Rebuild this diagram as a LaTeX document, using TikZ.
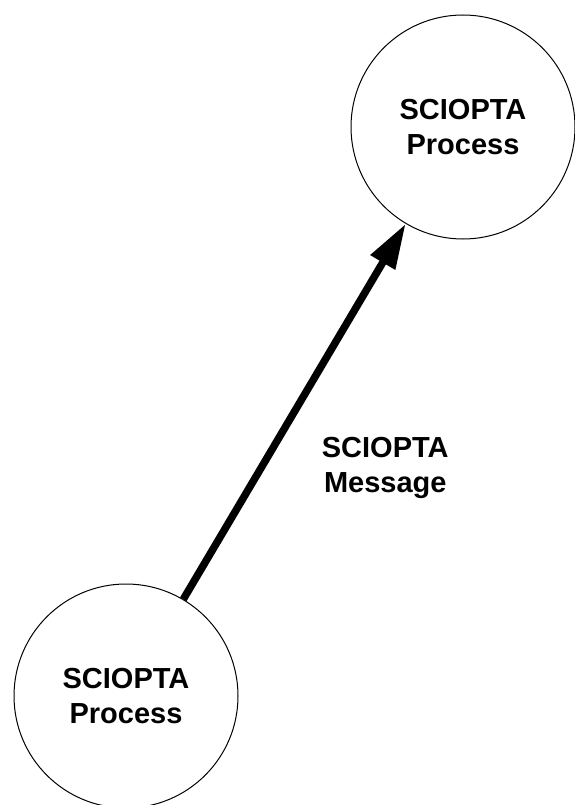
\documentclass[tikz,border=0pt]{standalone}
\usepackage{fontspec}
\setmainfont{Liberation Sans}
\usetikzlibrary{arrows.meta}
\begin{document}
\begin{tikzpicture}[x=1pt, y=1pt, >={Triangle[length=45pt,width=27pt]}, font=\fontsize{29}{35}\selectfont\bfseries, line join=round,
	proc/.style={draw, circle, line width=1pt, minimum size=224pt, inner sep=0pt, align=center},
	msg/.style={line width=7.5pt, ->}]
	\useasboundingbox (0,0) rectangle (574,-805);
	\node[proc] (recv) at (463,-127) {SCIOPTA\\Process};
	\node[proc] (send) at (126,-696) {SCIOPTA\\Process};
	\draw[msg] (send) -- (recv) node[pos=.35, right=57pt, inner sep=0pt, align=center]{SCIOPTA\\Message};
\end{tikzpicture}
\end{document}
